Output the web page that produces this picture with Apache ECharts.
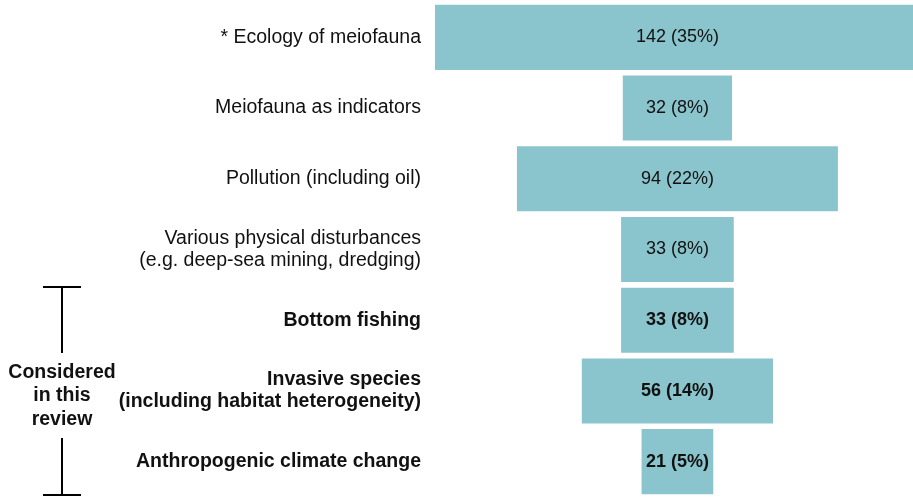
<!DOCTYPE html>
<html>
<head>
<meta charset="utf-8">
<script src="https://cdn.jsdelivr.net/npm/echarts@6/dist/echarts.min.js"></script>
<style>
    html, body {margin: 0; padding: 0; background: #ffffff;}
    #chart {width: 913px; height: 497px;}
</style>
</head>
<body>
<div id="chart"></div>
<script>
// 数据
const categories = [
    '* Ecology of meiofauna',
    'Meiofauna as indicators',
    'Pollution (including oil)',
    'Various physical disturbances\n(e.g. deep-sea mining, dredging)',
    'Bottom fishing',
    'Invasive species\n(including habitat heterogeneity)',
    'Anthropogenic climate change'
];
const counts = [142, 32, 94, 33, 33, 56, 21];
const percents = [35, 8, 22, 8, 8, 14, 5];
const inReview = [false, false, false, false, true, true, true];

const maxCount = Math.max(...counts);
const barColor = '#8AC5CD';
const textColor = '#111111';
const font = 'Liberation Sans, Arial, sans-serif';

// 居中用的透明偏移
let offsets = counts.map((v) => (maxCount - v) / 2);

let chart = echarts.init(document.getElementById('chart'));
let option = {
    animation: false,
    grid: {
        left: 435,
        top: 2,
        right: 0,
        height: 496,
        containLabel: false
    },
    xAxis: {
        type: 'value',
        min: 0,
        max: 140,   // 最宽的条超出画布右侧
        show: false
    },
    yAxis: {
        type: 'category',
        inverse: true,
        data: categories,
        axisLine: {show: false},
        axisTick: {show: false},
        splitLine: {show: false},
        axisLabel: {
            margin: 14,
            align: 'right',
            color: textColor,
            fontFamily: font,
            fontSize: 19.5,
            lineHeight: 22,
            formatter: (value, idx) => {
                let tag = inReview[idx] ? 'b' : 'n';
                return value.split('\n').map((line) => '{' + tag + '|' + line + '}').join('\n');
            },
            rich: {
                n: {fontSize: 19.5, fontFamily: font, color: textColor, lineHeight: 22},
                b: {fontSize: 19.5, fontFamily: font, color: textColor, fontWeight: 'bold', lineHeight: 22}
            }
        }
    },
    series: [
        {
            name: 'offset',
            type: 'bar',
            stack: 'total',
            silent: true,
            clip: false,
            itemStyle: {color: 'transparent'},
            data: offsets,
            barCategoryGap: '8%'
        },
        {
            name: 'count',
            type: 'bar',
            stack: 'total',
            clip: false,
            barCategoryGap: '8%',
            itemStyle: {color: barColor},
            data: counts.map((v, i) => ({
                value: v,
                label: {fontWeight: inReview[i] ? 'bold' : 'normal'}
            })),
            label: {
                show: true,
                position: 'inside',
                color: textColor,
                fontFamily: font,
                fontSize: 18,
                formatter: (p) => p.value + ' (' + percents[p.dataIndex] + '%)'
            }
        }
    ],
    graphic: [
        {type: 'line', shape: {x1: 43, y1: 287, x2: 81, y2: 287}, style: {stroke: '#000', lineWidth: 2}},
        {type: 'line', shape: {x1: 62, y1: 287, x2: 62, y2: 353}, style: {stroke: '#000', lineWidth: 2}},
        {type: 'line', shape: {x1: 62, y1: 438, x2: 62, y2: 495}, style: {stroke: '#000', lineWidth: 2}},
        {type: 'line', shape: {x1: 43, y1: 495, x2: 81, y2: 495}, style: {stroke: '#000', lineWidth: 2}},
        {
            type: 'text',
            x: 62,
            y: 396,
            style: {
                text: 'Considered\nin this\nreview',
                align: 'center',
                verticalAlign: 'middle',
                fill: textColor,
                font: 'bold 19.5px ' + font,
                lineHeight: 23.5
            }
        }
    ]
};
chart.setOption(option);
</script>
</body>
</html>
